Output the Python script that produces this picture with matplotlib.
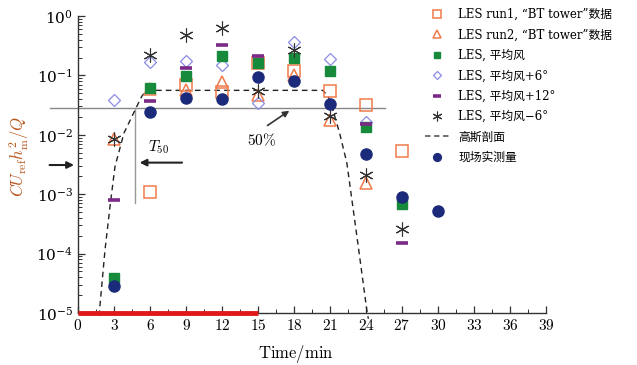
import numpy as np
import matplotlib
matplotlib.use("Agg")
import matplotlib.pyplot as plt
from matplotlib.ticker import MultipleLocator, LogLocator, NullFormatter
from matplotlib.lines import Line2D

plt.rcParams['mathtext.fontset'] = 'cm'
plt.rcParams['font.family'] = ['DejaVu Serif', 'Noto Sans CJK SC']

nan = np.nan
times = [3, 6, 9, 12, 15, 18, 21, 24, 27, 30]
run1 = [nan, 1.1e-3, 0.069, 0.053, 0.16, 0.118, 0.055, 0.032, 0.0054, nan]
run2 = [0.0085, 0.06, 0.057, 0.078, 0.047, 0.10, 0.018, 0.00155, nan, nan]
mean_wind = [3.9e-5, 0.061, 0.098, 0.21, 0.16, 0.20, 0.118, 0.0135, 6.9e-4, nan]
plus6 = [0.039, 0.167, 0.175, 0.15, 0.034, 0.37, 0.19, 0.0165, nan, nan]
plus12 = [8e-4, 0.037, 0.132, 0.33, 0.21, nan, nan, 0.015, 1.5e-4, nan]
minus6 = [0.0085, 0.22, 0.48, 0.63, 0.055, 0.27, 0.021, 0.0021, 2.6e-4, nan]
measured = [2.8e-5, 0.024, 0.042, 0.040, 0.095, 0.079, 0.033, 0.0048, 9e-4, 5.2e-4]

gauss_t = [1.75, 2.25, 2.67, 3.08, 3.83, 4.75, 5.3, 5.7, 20.4, 20.85, 21.2, 21.8, 22.4, 23.25, 24.1, 24.2]
gauss_v = [8.9e-6, 1.15e-4, 6.3e-4, 2.9e-3, 1.07e-2, 2.6e-2, 4.4e-2, 5.6e-2, 5.6e-2, 4.4e-2,
           2.8e-2, 1.07e-2, 3.4e-3, 1.9e-4, 1e-5, 8e-6]

labels = ['LES run1, “BT tower”数据', 'LES run2, “BT tower”数据', 'LES, 平均风',
          'LES, 平均风+6°', 'LES, 平均风+12°', 'LES, 平均风−6°',
          '高斯剖面', '现场实测量']

fig = plt.figure(figsize=(6.37, 3.65), dpi=100)
ax = fig.add_axes([78/637, 1-313/365, 468/637, 297/365])

orange = '#f07a4a'
h_run1, = ax.plot(times, run1, ls='none', marker='s', ms=8, mfc='none', mec=orange, mew=1.1, zorder=3)
h_run2, = ax.plot(times, run2, ls='none', marker='^', ms=8.5, mfc='none', mec=orange, mew=1.1, zorder=3)
h_p6, = ax.plot(times, plus6, ls='none', marker='D', ms=6, mfc='none', mec='#8c8ce6', mew=0.9, zorder=3)
h_mean, = ax.plot(times, mean_wind, ls='none', marker='s', ms=7, mfc='#188a3c', mec='#188a3c', zorder=4)
h_p12, = ax.plot(times, plus12, ls='none', marker='_', ms=8, mec='#7b2a88', mew=2.6, zorder=4)
h_m6, = ax.plot(times, minus6, ls='none', marker=(6, 2, 0), ms=10, mec='#333333', mew=0.8, zorder=5)
h_g, = ax.plot(gauss_t, gauss_v, ls=(0, (4, 3)), color='#222222', lw=1.0, zorder=2, clip_on=False)
h_meas, = ax.plot(times, measured, ls='none', marker='o', ms=8, mfc='#1b2a7a', mec='#1b2a7a', zorder=6)

# reference lines and annotations
ax.plot([-2.3, 25.6], [0.0283, 0.0283], color='#888888', lw=1.0, clip_on=False, zorder=1)
ax.plot([4.75, 4.75], [0.0283, 7.2e-4], color='#999999', lw=1.0, zorder=1)
ax.plot([0, 15], [1e-5, 1e-5], color='#e01818', lw=3.5, clip_on=False, zorder=7, solid_capstyle='butt')
ax.annotate('', xy=(-0.1, 0.0031), xytext=(-2.6, 0.0031),
            arrowprops=dict(arrowstyle='-|>', color='#222222', lw=1.5, mutation_scale=10),
            annotation_clip=False)
ax.annotate('', xy=(4.9, 0.0034), xytext=(8.9, 0.0034),
            arrowprops=dict(arrowstyle='-|>', color='#222222', lw=1.5, mutation_scale=10))
ax.text(6.7, 0.0063, r'$T_{50}$', fontsize=11, ha='center', va='center')
ax.text(15.3, 0.0082, r'$\mathrm{50\%}$', fontsize=11, ha='center', va='center')
ax.annotate('', xy=(17.8, 0.027), xytext=(15.6, 0.0135),
            arrowprops=dict(arrowstyle='-|>', color='#333333', lw=1.2, mutation_scale=9))

ax.set_yscale('log')
ax.set_xlim(0, 39)
ax.set_ylim(1e-5, 1)
ax.xaxis.set_major_locator(MultipleLocator(3))
ax.xaxis.set_minor_locator(MultipleLocator(1.5))
ax.xaxis.set_major_formatter(plt.FuncFormatter(lambda v, p: r'$\mathrm{%d}$' % v))
ax.yaxis.set_major_locator(LogLocator(base=10, numticks=10))
ax.yaxis.set_minor_locator(LogLocator(base=10, subs=np.arange(2, 10), numticks=20))
ax.yaxis.set_minor_formatter(NullFormatter())
ax.tick_params(which='both', direction='in', labelsize=11, color='#333333')
ax.tick_params(which='major', length=5, width=0.9)
ax.tick_params(which='minor', length=3, width=0.7)
for s in ['top', 'right']:
    ax.spines[s].set_visible(False)
for s in ['left', 'bottom']:
    ax.spines[s].set_color('#333333')
    ax.spines[s].set_linewidth(1.0)

ax.set_xlabel(r'$\mathrm{Time/min}$', fontsize=12)
ax.xaxis.set_label_coords((296-78)/468, -0.1)
ax.set_ylabel(r'$CU_{\rm ref}h_{\rm m}^{2}/Q$', fontsize=12, color='#b8561c')
ax.yaxis.set_label_coords(-0.1, 0.525)

g_leg = Line2D([], [], ls=(0, (3, 2)), color='#666666', lw=1.3)
handles = [h_run1, h_run2, h_mean, h_p6, h_p12, h_m6, g_leg, h_meas]
leg = ax.legend(handles, labels, loc='upper left', bbox_to_anchor=(425/637, 1-8/365),
                bbox_transform=fig.transFigure, frameon=False, fontsize=8.5,
                markerscale=0.7, handlelength=2.0, handletextpad=0.8, labelspacing=0.63,
                borderaxespad=0, borderpad=0)

fig.savefig('out.png', dpi=100)
